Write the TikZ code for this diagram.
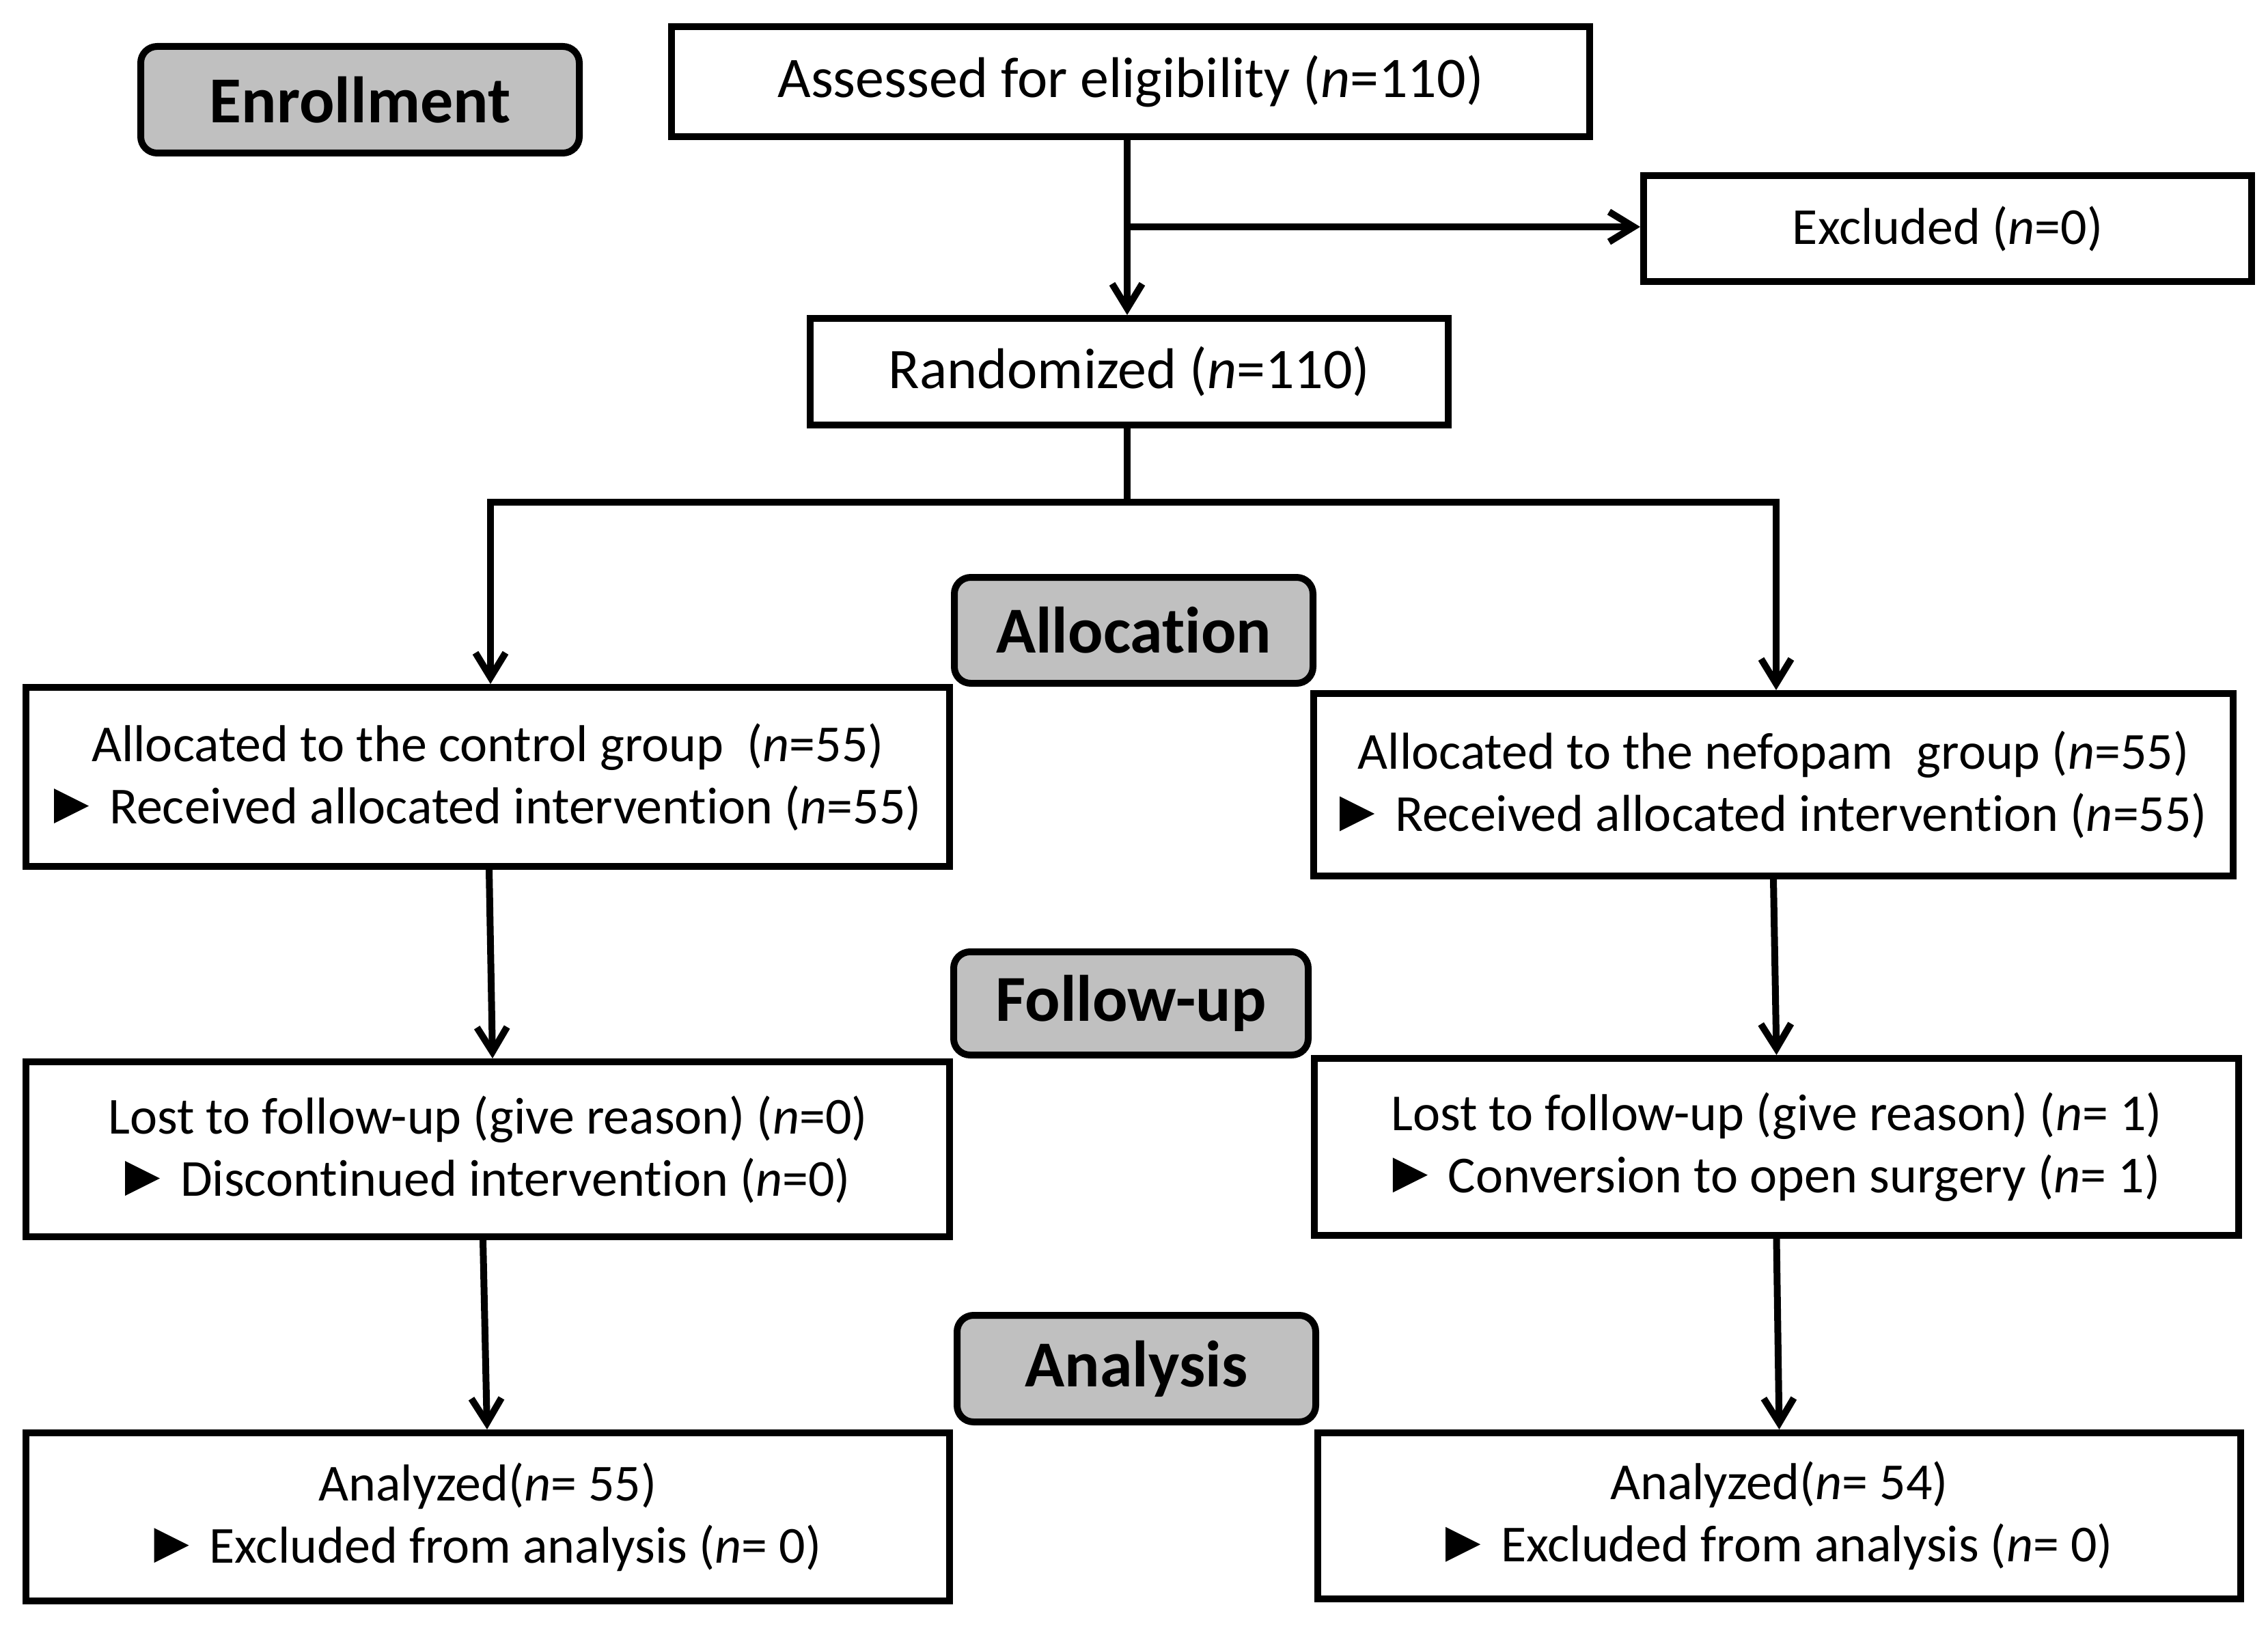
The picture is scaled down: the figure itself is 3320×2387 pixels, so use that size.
\documentclass[tikz,border=0pt]{standalone}
\usepackage{fontspec}
\setmainfont[Ligatures=NoCommon]{Carlito}
\usetikzlibrary{arrows.meta,calc}
\definecolor{lblgray}{RGB}{192,192,192}
\newcommand{\mytri}{\tikz[baseline=0pt]\fill[black] (0pt,0pt)--(0pt,12.75pt)--(12.75pt,6.375pt)--cycle;\hspace{7.5pt}}
\begin{document}
\begin{tikzpicture}[x=0.25pt,y=-0.25pt,line width=2.5pt,
  box/.style={draw, rectangle, inner sep=0pt, align=center, line width=2.5pt, font=\fontsize{19}{22.75}\selectfont},
  bigbox/.style={box, font=\fontsize{21}{25}\selectfont},
  lbl/.style={draw, rectangle, rounded corners=6pt, fill=lblgray, inner sep=0pt, line width=2.5pt, font=\fontsize{24}{28}\selectfont\bfseries},
  arr/.style={-{Straight Barb[length=9pt,width=11pt]}, line width=2.5pt}]
\fill[white] (0,0) rectangle (3320,2387);
\useasboundingbox (0,0) rectangle (3320,2387);

\node[lbl, minimum width=160.5pt, minimum height=39pt] (enr) at (527,146) {Enrollment};
\node[bigbox, minimum width=336pt, minimum height=40.25pt] (ass) at (1655,119.5) {Assessed for eligibility (\textit{n}=110)};
\node[box, minimum width=222.5pt, minimum height=38.75pt] (exc) at (2851,334.5) {Excluded (\textit{n}=0)};
\node[bigbox, minimum width=233.5pt, minimum height=39pt] (rand) at (1653,544) {Randomized (\textit{n}=110)};

\node[lbl, minimum width=131.25pt, minimum height=38.75pt] (alc) at (1659.5,922.5) {Allocation};
\node[box, minimum width=338pt, minimum height=65.5pt] (la) at (714,1137) {Allocated to the control group\ \ (\textit{n}=55)\\\mytri Received allocated intervention (\textit{n}=55)};
\node[box, minimum width=336.5pt, minimum height=66.75pt] (ra) at (2596,1148.5) {Allocated to the nefopam\ \ group (\textit{n}=55)\\\mytri Received allocated intervention (\textit{n}=55)};

\node[lbl, minimum width=129.75pt, minimum height=37.75pt] (fol) at (1655.5,1468.5) {Follow-up};
\node[box, minimum width=338pt, minimum height=64pt] (ll) at (714,1682) {Lost to follow-up (give reason) (\textit{n}=0)\\\mytri Discontinued intervention (\textit{n}=0)};
\node[box, minimum width=338.25pt, minimum height=64.75pt] (rl) at (2600.5,1678.5) {Lost to follow-up (give reason) (\textit{n}= 1)\\\mytri Conversion to open surgery (\textit{n}= 1)};

\node[lbl, minimum width=131.25pt, minimum height=39pt] (ana) at (1663.5,2003) {Analysis};
\node[box, minimum width=338pt, minimum height=61.5pt] (ln) at (714,2220) {Analyzed(\textit{n}= 55)\\\mytri Excluded from analysis (\textit{n}= 0)};
\node[box, minimum width=337.75pt, minimum height=60.75pt] (rn) at (2604.5,2218.5) {Analyzed(\textit{n}= 54)\\\mytri Excluded from analysis (\textit{n}= 0)};

\coordinate (br) at (1650,332);
\coordinate (sp) at (1650,735);
\draw[arr] (ass.south -| br) -- (rand.north -| br);
\draw[arr] (br) -- (br -| exc.west);
\draw (rand.south -| sp) -- (sp);
\draw[arr] (sp) -| ([xshift=1pt]la.north);
\draw[arr] (sp) -| ([xshift=1pt]ra.north);
\draw[arr] ([xshift=0.5pt]la.south) -- ([xshift=1.75pt]ll.north);
\draw[arr] ([xshift=-1.75pt]ll.south) -- ([xshift=-0.25pt]ln.north);
\draw[arr] (ra.south) -- (rl.north);
\draw[arr] (rl.south) -- (rn.north);
\end{tikzpicture}
\end{document}
